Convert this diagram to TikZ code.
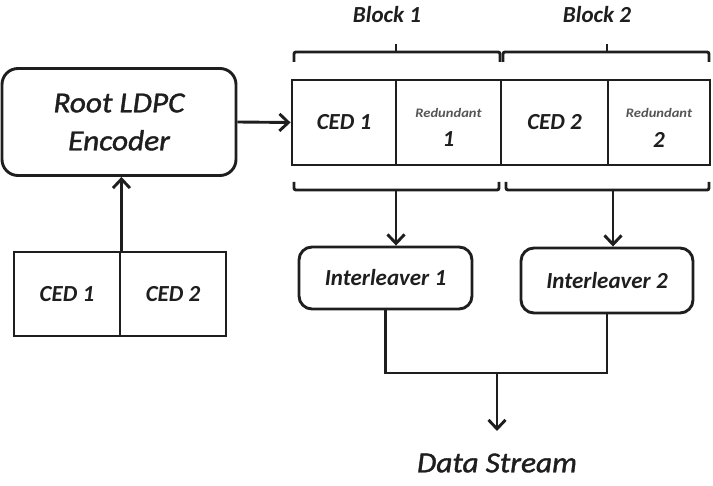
\documentclass[tikz,border=0pt]{standalone}
\usepackage{fontspec}
\setmainfont{Carlito}
\newfontfamily\semiit{Carlito}[ItalicFeatures={FakeBold=1.3}]
\usetikzlibrary{arrows.meta}
\definecolor{ink}{HTML}{1E1E1E}
\definecolor{soft}{HTML}{555555}
\begin{document}
\begin{tikzpicture}[x=1pt,y=-1pt,
  line width=2.9pt, draw=ink, text=ink,
  box/.style={draw, rectangle, inner sep=0pt},
  rbox/.style={draw, rectangle, rounded corners=13pt, inner sep=0pt},
  arr/.style={-{Straight Barb[length=9pt,width=17pt]}},
  lbl/.style={font=\fontsize{23}{26}\selectfont\bfseries\itshape},
  big/.style={font=\fontsize{29}{38}\selectfont\semiit\itshape, align=center, xscale=1.08},
  brace/.style={rounded corners=2pt}]
\useasboundingbox (0,0) rectangle (713,486);
% root encoder
\node[rbox, minimum width=234pt, minimum height=107pt, rounded corners=16pt] (enc) at (119,122) {};
\node[big] (enct) at (enc.center) {Root LDPC\\Encoder};
% input CED boxes
\node[box, minimum width=106pt, minimum height=84pt, lbl] (cedA) at (67,294) {CED 1};
\node[box, minimum width=106pt, minimum height=84pt, lbl] (cedB) at (173,294) {CED 2};
% top row
\node[box, minimum width=104pt, minimum height=85pt, lbl] (t1) at (344,122.5) {CED 1};
\node[box, minimum width=105pt, minimum height=85pt] (t2) at (448.5,122.5) {};
\node[box, minimum width=107pt, minimum height=85pt, lbl] (t3) at (554.5,122.5) {CED 2};
\node[box, minimum width=102pt, minimum height=85pt] (t4) at (659,122.5) {};
\node[font=\fontsize{13}{15}\selectfont\bfseries\itshape, text=soft, xscale=1.12] (r1) at ([yshift=10pt]t2.center) {Redundant};
\node[lbl] (n1) at ([yshift=-17pt]t2.center) {1};
\node[font=\fontsize{13}{15}\selectfont\bfseries\itshape, text=soft, xscale=1.12] (r2) at ([yshift=10pt]t4.center) {Redundant};
\node[lbl] (n2) at ([yshift=-17pt]t4.center) {2};
% block labels and top braces
\node[lbl] (bl1) at (387,15) {Block 1};
\node[lbl] (bl2) at (597,15) {Block 2};
\draw[brace] (294,62) -- (294,52) -- (500,52) -- (500,62);
\draw (396,52) -- (396,44);
\draw[brace] (503,62) -- (503,52) -- (709,52) -- (709,62);
\draw (607,52) -- (607,44);
% bottom braces
\draw[brace] (294,182) -- (294,190) -- (499,190) -- (499,182);
\draw[brace] (506,182) -- (506,190) -- (709,190) -- (709,182);
\coordinate (b1) at (396,190);
\coordinate (b2) at (613,190);
% interleavers
\node[rbox, minimum width=173pt, minimum height=62pt, lbl] (il1) at (385.5,278) {Interleaver 1};
\node[rbox, minimum width=172pt, minimum height=65pt, lbl] (il2) at (607,280.5) {Interleaver 2};
% data stream
\node[big] (ds) at (497,463) {Data Stream};
\coordinate (j) at (497,373);
\coordinate (dsin) at (497,431);
% connectors
\draw[arr] (enc.east) -- (t1.west);
\draw[arr] (cedA.north east) -- (cedA.north east |- enc.south);
\draw[arr] (b1) -- (b1 |- il1.north);
\draw[arr] (b2) -- (b2 |- il2.north);
\draw (il1.south) -- (il1.south |- j) -- (il2.south |- j) -- (il2.south);
\draw[arr] (j) -- (dsin);
\end{tikzpicture}
\end{document}
